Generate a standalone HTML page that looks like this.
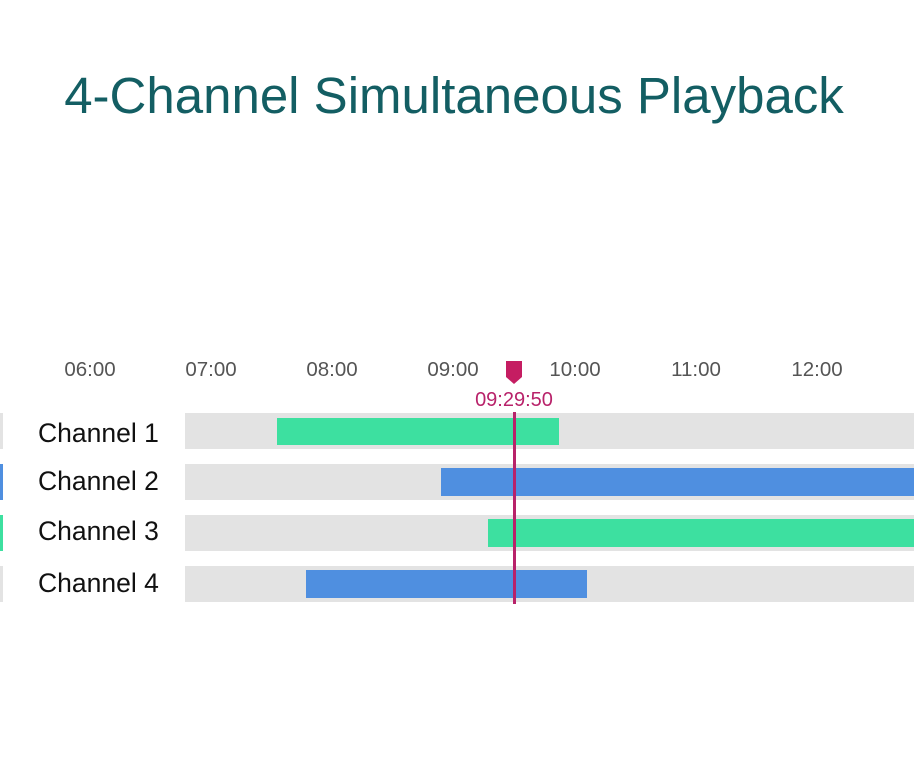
<!DOCTYPE html>
<html><head><style>
body{margin:0;width:914px;height:774px;background:#fff;position:relative;overflow:hidden;font-family:"Liberation Sans",sans-serif}
.a{position:absolute}
.t{position:absolute;top:358px;width:80px;margin-left:-40px;text-align:center;font-size:20.5px;color:#555}
.lbl{position:absolute;left:38px;font-size:26.5px;color:#111}
.g{position:absolute;left:185px;width:729px;height:36px;background:#e3e3e3}
</style></head><body>
<div class="a" style="left:0;width:908px;top:66px;text-align:center;font-size:51px;color:#135e63;">4-Channel Simultaneous Playback</div>
<div class="t" style="left:90px">06:00</div>
<div class="t" style="left:211px">07:00</div>
<div class="t" style="left:332px">08:00</div>
<div class="t" style="left:453px">09:00</div>
<div class="t" style="left:575px">10:00</div>
<div class="t" style="left:696px">11:00</div>
<div class="t" style="left:817px">12:00</div>
<div class="a" style="left:0;top:413px;width:3px;height:36px;background:#e3e3e3"></div>
<div class="a" style="left:0;top:464px;width:3px;height:36px;background:#4f8fe0"></div>
<div class="a" style="left:0;top:515px;width:3px;height:36px;background:#3de0a0"></div>
<div class="a" style="left:0;top:566px;width:3px;height:36px;background:#e3e3e3"></div>
<div class="lbl" style="top:418px">Channel 1</div>
<div class="lbl" style="top:466px">Channel 2</div>
<div class="lbl" style="top:516px">Channel 3</div>
<div class="lbl" style="top:568px">Channel 4</div>
<div class="g" style="top:413px"></div>
<div class="g" style="top:464px"></div>
<div class="g" style="top:515px"></div>
<div class="g" style="top:566px"></div>
<div class="a" style="left:277px;width:282px;top:418px;height:27px;background:#3de0a0"></div>
<div class="a" style="left:441px;width:473px;top:468px;height:28px;background:#4f8fe0"></div>
<div class="a" style="left:488px;width:426px;top:519px;height:28px;background:#3de0a0"></div>
<div class="a" style="left:306px;width:281px;top:570px;height:28px;background:#4f8fe0"></div>
<div class="a" style="left:513px;width:3px;top:412px;height:192px;background:#b8226a"></div>
<svg class="a" style="left:505px;top:360px" width="18" height="25"><path d="M1 1H17V17L9 24L1 17Z" fill="#c51d62"/></svg>
<div class="a" style="left:454px;width:120px;top:389px;text-align:center;font-size:20px;color:#b8226a">09:29:50</div>
</body></html>
